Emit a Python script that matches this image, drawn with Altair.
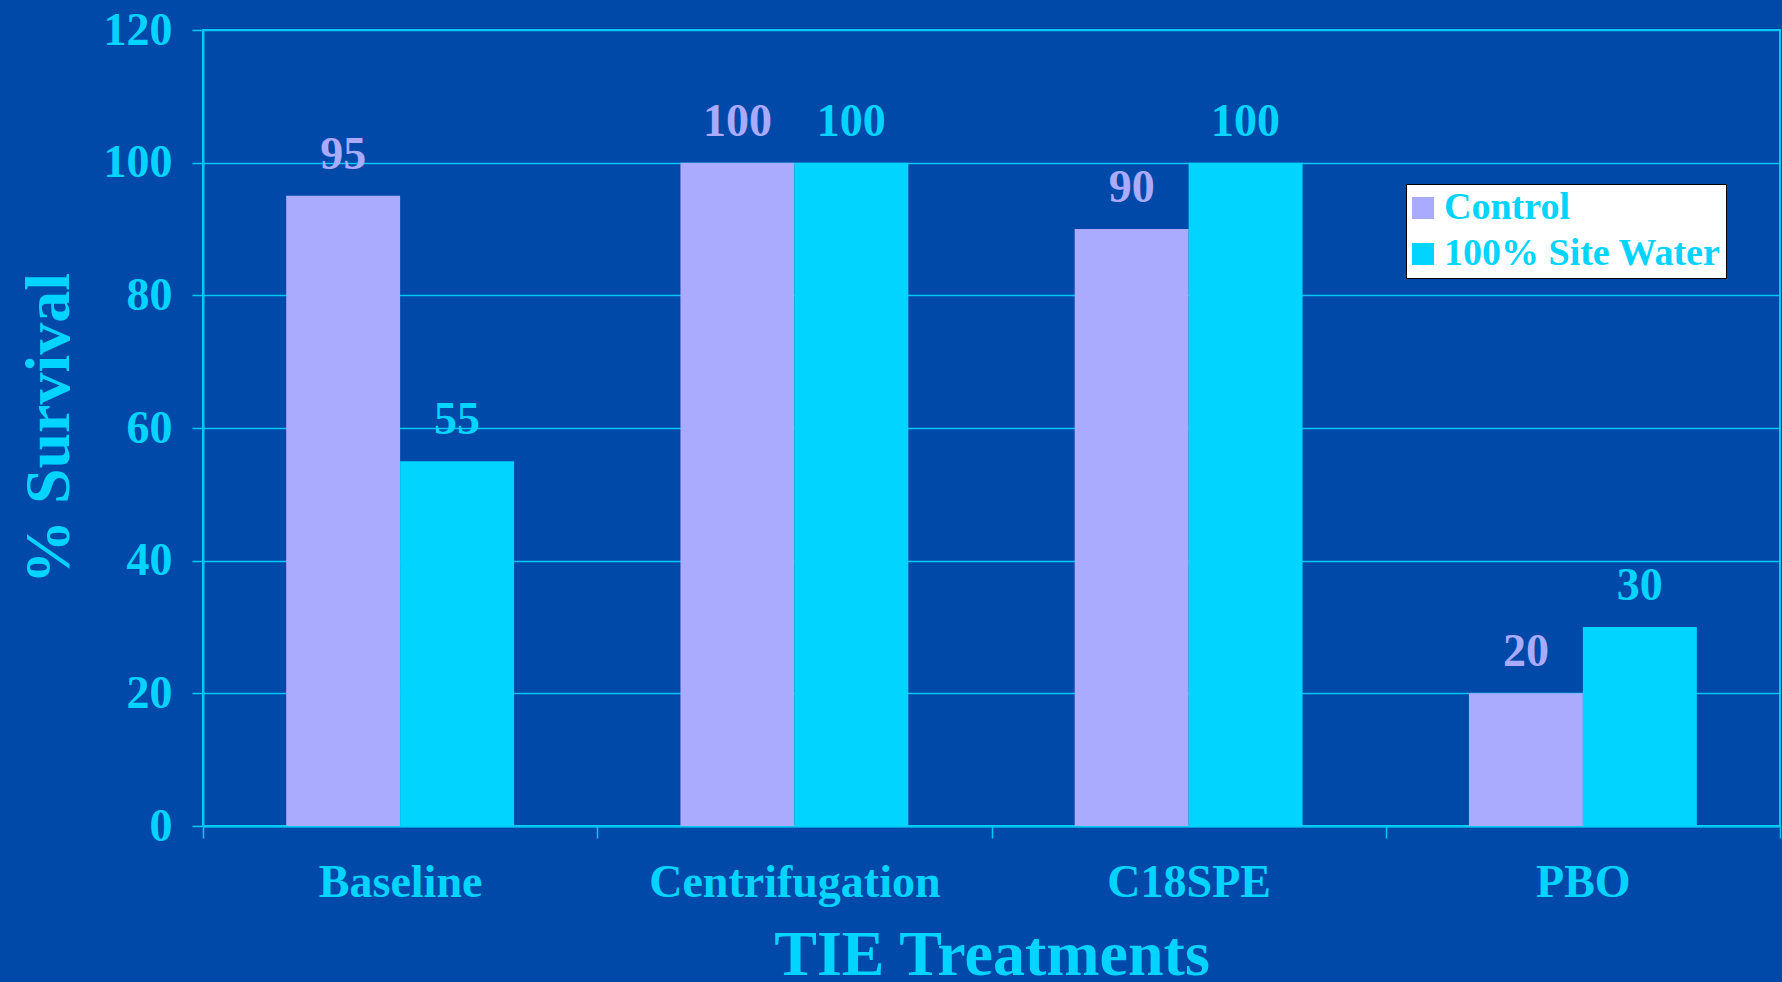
import altair as alt
import pandas as pd

# Survival (%) per TIE treatment
treatments = ["Baseline", "Centrifugation", "C18SPE", "PBO"]
series = ["Control", "100% Site Water"]
control = [95, 100, 90, 20]
site_water = [55, 100, 100, 30]
y_ticks = [0, 20, 40, 60, 80, 100, 120]

colors = ["#AAAAFF", "#00D4FF"]
cyan = "#00D4FF"
line_cyan = "#00C8F5"
bg = "#0049A9"
font = "Liberation Serif"

rows = []
for t, c, s in zip(treatments, control, site_water):
    rows.append({"treatment": t, "series": series[0], "survival": c})
    rows.append({"treatment": t, "series": series[1], "survival": s})
df = pd.DataFrame(rows)

x_enc = alt.X(
    "treatment:N",
    sort=treatments,
    scale=alt.Scale(paddingInner=0, paddingOuter=0),
    axis=alt.Axis(
        title="TIE Treatments",
        labelAngle=0,
        tickBand="extent",
        grid=False,
        labelFontSize=46,
        labelPadding=22,
        labelLimit=0,
        tickSize=12,
        titleFontSize=64,
        titleY=148,
        titleBaseline="alphabetic",
    ),
)
xo_enc = alt.XOffset(
    "series:N", sort=series, scale=alt.Scale(paddingInner=0, paddingOuter=0.73)
)
y_enc = alt.Y(
    "survival:Q",
    scale=alt.Scale(domain=[0, 120], nice=False),
    axis=alt.Axis(
        title="% Survival",
        values=y_ticks,
        grid=True,
        labelFontSize=46,
        labelPadding=20,
        tickSize=11,
        titleFontSize=64,
        titleX=-135,
        titleBaseline="alphabetic",
    ),
)
color_scale = alt.Scale(domain=series, range=colors)

bars = alt.Chart(df).mark_bar().encode(
    x=x_enc,
    xOffset=xo_enc,
    y=y_enc,
    color=alt.Color(
        "series:N",
        sort=series,
        scale=color_scale,
        legend=alt.Legend(
            title=None,
            orient="none",
            legendX=1203,
            legendY=154,
            fillColor="white",
            strokeColor="black",
            padding=5,
            symbolType="square",
            symbolSize=484,
            symbolStrokeWidth=0,
            symbolOffset=-7,
            labelFont=font,
            labelFontSize=38,
            labelFontWeight="bold",
            labelColor=cyan,
            labelOffset=2,
            labelLimit=600,
            rowPadding=8,
        ),
    ),
)

labels = alt.Chart(df).mark_text(
    font=font, fontSize=46, fontWeight="bold", baseline="alphabetic", dy=-27
).encode(
    x=alt.X("treatment:N", sort=treatments),
    xOffset=alt.XOffset("series:N", sort=series),
    y=alt.Y("survival:Q"),
    text=alt.Text("survival:Q"),
    color=alt.Color("series:N", sort=series, scale=color_scale, legend=None),
)

chart = (
    alt.layer(bars, labels)
    .properties(
        width=1577,
        height=796,
        background=bg,
        padding={"left": 203, "top": 30, "right": 2, "bottom": 156},
        autosize=alt.AutoSizeParams(type="none"),
    )
    .configure_view(stroke=line_cyan, strokeWidth=2)
    .configure_axis(
        domainColor=line_cyan,
        domainWidth=2,
        tickColor=line_cyan,
        tickWidth=1.5,
        gridColor=line_cyan,
        gridWidth=1.5,
        gridOpacity=1,
        labelColor=cyan,
        labelFont=font,
        labelFontWeight="bold",
        titleColor=cyan,
        titleFont=font,
        titleFontWeight="bold",
    )
)

chart.save("out.html", embed_options={"renderer": "svg", "actions": False})
